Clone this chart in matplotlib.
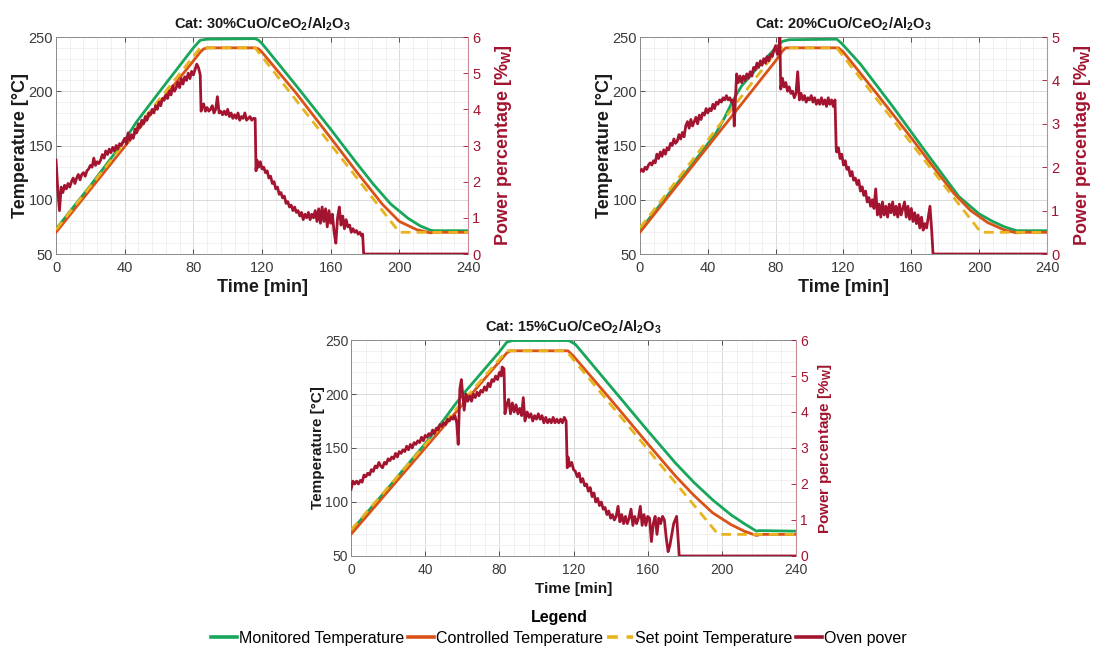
import numpy as np
import matplotlib
matplotlib.use("Agg")
import matplotlib.pyplot as plt
from matplotlib.ticker import MultipleLocator
from matplotlib.lines import Line2D

plt.rcParams['font.family'] = ['Liberation Sans', 'DejaVu Sans']
plt.rcParams['mathtext.fontset'] = 'custom'
plt.rcParams['mathtext.rm'] = 'Liberation Sans'
plt.rcParams['mathtext.bf'] = 'Liberation Sans:bold'
plt.rcParams['mathtext.default'] = 'bf'

GREEN = '#17A65A'
ORANGE = '#D95319'
YELLOW = '#E8B41E'
RED = '#A2142F'
AXC = '#3a3a3a'

# ---------------- 30% CuO/CeO2/Al2O3 ----------------
t30_set = [0, 84, 116, 200, 240]
T30_set = [72.5, 240, 240, 70, 70]
t30_ctrl = [0, 80, 84, 86, 88, 116, 118, 120, 140, 160, 175, 185, 190, 200, 210, 218, 220, 240]
T30_ctrl = [70, 228, 236, 239, 240, 240, 239, 236, 198, 157, 126, 106, 96, 80, 72.5, 69.5, 70, 70]
t30_mon = [0, 20, 40, 47, 60, 80, 84, 88, 116, 118, 120, 140, 160, 175, 185, 195, 205, 212, 218, 220, 240]
T30_mon = [73, 113, 155, 172, 199, 240, 247, 248, 248.5, 247, 244, 205, 165, 134, 114, 96, 83, 76, 72, 71.5, 71.5]
t30_pow = [0, 1, 2, 3, 4, 5, 6, 7, 8, 9,
           10, 11, 12, 13, 14, 15, 16, 17, 18, 19,
           20, 21, 22, 23, 24, 25, 26, 27, 28, 29,
           30, 31, 32, 33, 34, 35, 36, 37, 38, 39,
           40, 41, 42, 43, 44, 45, 46, 47, 48, 49,
           50, 51, 52, 53, 54, 55, 56, 57, 58, 59,
           60, 61, 62, 63, 64, 65, 66, 67, 68, 69,
           70, 71, 72, 73, 74, 75, 76, 77, 78, 79,
           80, 81, 82, 83, 84, 84.5, 85, 86, 87, 88, 89,
           90, 91, 92, 93, 94, 95, 96, 97, 98, 99,
           100, 101, 102, 103, 104, 105, 106, 107, 108, 109,
           110, 111, 112, 113, 114, 115, 116, 116.5, 117, 118, 119,
           120, 121, 122, 123, 124, 125, 126, 127, 128, 129,
           130, 131, 132, 133, 134, 135, 136, 137, 138, 139,
           140, 141, 142, 143, 144, 145, 146, 147, 148, 149,
           150, 151, 152, 153, 154, 155, 156, 157, 158, 159,
           160, 161, 162, 163, 164, 165, 166, 167, 168, 169,
           170, 171, 172, 173, 174, 175, 176, 177, 178, 178.6, 179.2, 240]
P30_pow = [2.6, 1.8, 1.2, 1.85, 1.7, 1.9, 1.8, 1.95, 1.85, 2.0,
           2.1, 1.95, 2.1, 2.2, 2.05, 2.2, 2.25, 2.15, 2.3, 2.35,
           2.45, 2.4, 2.65, 2.45, 2.55, 2.5, 2.6, 2.75, 2.65, 2.85,
           2.75, 2.9, 2.8, 2.95, 2.85, 3.0, 2.9, 3.05, 3.0, 3.1,
           3.2, 3.05, 3.35, 3.15, 3.3, 3.2, 3.45, 3.35, 3.6, 3.5,
           3.7, 3.6, 3.8, 3.7, 3.9, 3.85, 4.0, 3.9, 4.1, 4.0,
           4.2, 4.1, 4.3, 4.25, 4.4, 4.3, 4.5, 4.4, 4.65, 4.5,
           4.6, 4.75, 4.6, 4.85, 4.7, 4.9, 4.8, 5.0, 4.85, 5.05,
           4.95, 5.1, 5.25, 5.15, 4.95, 3.95, 4.05, 4.15, 3.95, 4.05, 3.95,
           4.0, 4.1, 3.9, 4.0, 4.35, 3.9, 3.95, 3.85, 3.95, 3.85,
           4.0, 3.8, 3.9, 3.75, 3.85, 3.75, 3.9, 3.7, 3.8, 3.75,
           3.9, 3.7, 3.75, 3.8, 3.7, 3.75, 3.75, 2.3, 2.6, 2.4, 2.55,
           2.35, 2.4, 2.25, 2.3, 2.1, 2.15, 1.95, 2.0, 1.8, 1.85,
           1.65, 1.7, 1.55, 1.6, 1.4, 1.45, 1.3, 1.35, 1.2, 1.3,
           1.15, 1.2, 1.05, 1.15, 0.95, 1.1, 1.0, 1.15, 0.95, 1.1,
           1.0, 1.2, 0.9, 1.25, 0.85, 1.3, 0.9, 1.25, 0.75, 1.2,
           0.85, 1.1, 0.6, 0.3, 1.0, 1.3, 0.8, 1.05, 0.7, 0.95,
           0.75, 0.8, 0.6, 0.7, 0.6, 0.65, 0.55, 0.6, 0.5, 0.55, 0.0, 0.0]

# ---------------- 20% CuO/CeO2/Al2O3 ----------------
t20_set = [0, 82, 116, 201, 240]
T20_set = [74, 240, 240, 70, 70]
t20_ctrl = [0, 80, 84, 86, 117, 120, 140, 160, 175, 185, 195, 205, 215, 222, 225, 240]
T20_ctrl = [70, 228, 237, 240, 240, 236, 197, 157, 126, 106, 90, 79, 72, 69.5, 70, 70]
t20_mon = [0, 30, 45, 50, 55, 60, 70, 80, 84, 88, 116, 119, 130, 149, 169, 188, 200, 208, 215, 222, 240]
T20_mon = [72, 131, 162, 176, 192, 205, 223, 240, 246, 247.5, 248, 244, 225, 186, 143, 103, 87, 80, 75, 71.5, 71.5]
t20_pow = [0, 1, 2, 3, 4, 5, 6, 7, 8, 9,
           10, 11, 12, 13, 14, 15, 16, 17, 18, 19,
           20, 21, 22, 23, 24, 25, 26, 27, 28, 29,
           30, 31, 32, 33, 34, 35, 36, 37, 38, 39,
           40, 41, 42, 43, 44, 45, 46, 47, 48, 49,
           50, 51, 52, 53, 54, 55, 55.6, 56.2, 57, 58, 59,
           60, 61, 62, 63, 64, 65, 66, 67, 68, 69,
           70, 71, 72, 73, 74, 75, 76, 77, 78, 79,
           80, 81, 82, 82.5, 83, 84, 85, 86, 87, 88, 89,
           90, 91, 92, 93, 94, 95, 96, 97, 98, 99,
           100, 101, 102, 103, 104, 105, 106, 107, 108, 109,
           110, 111, 112, 113, 114, 115, 115.7, 116, 117, 118, 119,
           120, 121, 122, 123, 124, 125, 126, 127, 128, 129,
           130, 131, 132, 133, 134, 135, 136, 137, 138, 139,
           140, 141, 142, 143, 144, 145, 146, 147, 148, 149,
           150, 151, 152, 153, 154, 155, 156, 157, 158, 159,
           160, 161, 162, 163, 164, 165, 166, 167, 168, 169,
           170, 171, 172, 172.8, 240]
P20_pow = [1.9, 1.95, 1.9, 2.0, 1.95, 2.05, 2.1, 2.05, 2.15, 2.1,
           2.3, 2.2, 2.35, 2.25, 2.4, 2.3, 2.45, 2.4, 2.55, 2.5,
           2.65, 2.55, 2.6, 2.75, 2.65, 2.8, 2.7, 2.95, 3.05, 2.9,
           3.1, 2.95, 3.05, 3.15, 3.0, 3.2, 3.1, 3.25, 3.2, 3.35,
           3.25, 3.35, 3.3, 3.45, 3.35, 3.5, 3.45, 3.55, 3.5, 3.6,
           3.55, 3.65, 3.55, 3.6, 3.5, 3.55, 2.95, 3.5, 4.15, 3.95, 4.1,
           3.95, 4.1, 4.0, 4.15, 4.05, 4.2, 4.1, 4.3, 4.25, 4.4,
           4.3, 4.45, 4.35, 4.5, 4.4, 4.55, 4.45, 4.6, 4.55, 4.7,
           4.8, 4.6, 4.75, 5.0, 3.8, 4.05, 3.85, 3.95, 3.75, 3.85, 3.7,
           3.75, 3.6, 3.7, 4.2, 3.55, 3.7, 3.55, 3.65, 3.5, 3.6,
           3.55, 3.65, 3.5, 3.6, 3.45, 3.55, 3.45, 3.6, 3.45, 3.55,
           3.4, 3.6, 3.45, 3.55, 3.4, 3.55, 2.45, 2.35, 2.45, 2.2, 2.3,
           2.05, 2.15, 1.95, 2.0, 1.8, 1.9, 1.7, 1.75, 1.6, 1.7,
           1.45, 1.55, 1.35, 1.45, 1.2, 1.3, 1.1, 1.25, 1.05, 1.5,
           0.9, 1.15, 0.85, 1.2, 0.9, 1.1, 0.85, 1.15, 0.95, 1.2,
           0.9, 1.1, 0.85, 1.15, 0.9, 1.05, 1.2, 0.85, 1.1, 0.8,
           1.05, 0.75, 0.95, 0.7, 0.9, 0.6, 0.85, 0.55, 0.7, 0.6,
           0.85, 1.1, 0.55, 0.0, 0.0]

# ---------------- 15% CuO/CeO2/Al2O3 ----------------
t15_set = [0, 84, 116, 198, 240]
T15_set = [74, 240, 240, 70, 70]
t15_ctrl = [0, 80, 84, 86, 117, 120, 140, 160, 175, 185, 195, 205, 212, 218.6, 221, 240]
T15_ctrl = [70, 230, 238, 240, 240, 235, 195, 154, 124, 106, 90, 79, 73, 69, 70, 70]
t15_mon = [0, 20, 40, 50, 56, 61, 70, 80, 84, 87, 117, 118, 121, 140, 160, 175, 185, 195, 205, 212, 218.6, 220, 240]
T15_mon = [73, 113, 154, 176, 190, 201, 219, 239, 248, 249.5, 249.5, 249, 246, 207, 166, 136, 118, 102, 88, 80, 73, 73.5, 73]
t15_pow = [0, 1, 2, 3, 4, 5, 6, 7, 8, 9,
           10, 11, 12, 13, 14, 15, 16, 17, 18, 19,
           20, 21, 22, 23, 24, 25, 26, 27, 28, 29,
           30, 31, 32, 33, 34, 35, 36, 37, 38, 39,
           40, 41, 42, 43, 44, 45, 46, 47, 48, 49,
           50, 51, 52, 53, 54, 55, 56, 57, 57.8, 58.7, 59.5,
           60.5, 61, 62, 63, 64, 65, 66, 67, 68, 69,
           70, 71, 72, 73, 74, 75, 76, 77, 78, 79,
           80, 81, 81.5, 82.5, 83, 84, 85, 86, 87, 88, 89,
           90, 91, 92, 92.9, 93.8, 95, 96, 97, 98, 99,
           100, 101, 102, 103, 104, 105, 106, 107, 108, 109,
           110, 111, 112, 113, 114, 115, 116, 116.6, 117, 118, 119,
           120, 121, 122, 123, 124, 125, 126, 127, 128, 129,
           130, 131, 132, 133, 134, 135, 136, 137, 138, 139,
           140, 141, 142, 143, 144, 145, 146, 147, 148, 149,
           150, 151, 152, 153, 154, 155, 156, 157, 158, 159,
           160, 161, 162, 163, 164, 165, 166, 167, 168, 169,
           170, 171, 172, 173, 174, 175.6, 177, 240]
P15_pow = [1.85, 2.08, 2.0, 2.08, 2.0, 2.1, 2.05, 2.25, 2.2, 2.3,
           2.25, 2.4, 2.35, 2.5, 2.45, 2.6, 2.5, 2.45, 2.6, 2.55,
           2.7, 2.65, 2.75, 2.7, 2.85, 2.75, 2.9, 2.85, 2.95, 2.9,
           3.05, 2.95, 3.1, 3.0, 3.15, 3.1, 3.2, 3.15, 3.3, 3.2,
           3.35, 3.3, 3.4, 3.35, 3.5, 3.4, 3.55, 3.5, 3.65, 3.6,
           3.7, 3.65, 3.8, 3.75, 3.85, 3.8, 3.9, 3.7, 3.1, 4.65, 4.9,
           4.35, 4.05, 4.5, 4.3, 4.45, 4.3, 4.5, 4.4, 4.55, 4.45,
           4.6, 4.55, 4.7, 4.6, 4.8, 4.7, 4.9, 4.85, 5.0, 4.9,
           5.1, 5.0, 5.25, 5.2, 3.95, 4.2, 4.35, 3.95, 4.25, 4.0, 4.2,
           3.95, 4.1, 3.9, 4.4, 3.75, 4.0, 3.85, 3.95, 3.75, 3.9,
           3.8, 3.95, 3.8, 3.9, 3.7, 3.85, 3.7, 3.8, 3.7, 3.85,
           3.7, 3.8, 3.7, 3.8, 3.7, 3.85, 3.75, 2.45, 2.75, 2.5, 2.6,
           2.4, 2.35, 2.2, 2.3, 2.05, 2.15, 1.95, 2.0, 1.8, 1.9,
           1.65, 1.75, 1.5, 1.6, 1.4, 1.5, 1.3, 1.35, 1.15, 1.25,
           1.05, 1.15, 1.0, 1.1, 1.38, 0.95, 1.15, 0.9, 1.1, 0.9,
           1.05, 1.3, 0.85, 1.1, 0.9, 1.05, 1.38, 0.85, 1.15, 0.85,
           1.1, 1.05, 0.4, 0.9, 1.1, 0.6, 1.05, 0.9, 1.1, 1.0,
           0.5, 0.12, 0.3, 0.6, 0.9, 1.1, 0.0, 0.0]

time_ticks = [0, 40, 80, 120, 160, 200, 240]
temp_ticks = [50, 100, 150, 200, 250]


def draw_panel(rect, title, t_mon, T_mon, t_ctrl, T_ctrl, t_set, T_set,
               t_pow, P_pow, pmax, tick_fs, label_fs, title_fs, lw, xlabpad, rlabpad):
    ax = fig.add_axes(rect)
    ax.set_xlim(0, 240)
    ax.set_ylim(50, 250)
    ax.set_xticks(time_ticks)
    ax.set_yticks(temp_ticks)
    ax.xaxis.set_minor_locator(MultipleLocator(8))
    ax.yaxis.set_minor_locator(MultipleLocator(10))
    ax.grid(which='major', color='#d9d9d9', lw=0.7)
    ax.grid(which='minor', color='#eeeeee', lw=0.6)
    ax.set_axisbelow(True)
    ax.tick_params(which='major', direction='in', length=3.5, width=0.6,
                   colors=AXC, labelsize=tick_fs, top=True, right=False)
    ax.tick_params(axis='x', pad=5)
    ax.tick_params(axis='y', pad=2)
    ax.tick_params(which='minor', length=0)
    for s in ['left', 'bottom', 'top']:
        ax.spines[s].set_color('#8c8c8c')
        ax.spines[s].set_linewidth(0.7)
    ax.spines['right'].set_visible(False)

    ax.plot(t_mon, T_mon, color=GREEN, lw=lw, solid_joinstyle='round', zorder=3)
    ax.plot(t_ctrl, T_ctrl, color=ORANGE, lw=lw, solid_joinstyle='round', zorder=4)
    ax.plot(t_set, T_set, color=YELLOW, lw=lw, ls=(0, (3.5, 2.2)), zorder=5)

    ax.set_xlabel('Time [min]', fontsize=label_fs, fontweight='bold', color='#1a1a1a',
                  labelpad=xlabpad)
    ax.set_ylabel('Temperature [°C]', fontsize=label_fs, fontweight='bold', color='#1a1a1a',
                  labelpad=0)
    ax.set_title(title, fontsize=title_fs, fontweight='bold', color='#1a1a1a', pad=6)

    ax2 = ax.twinx()
    ax2.set_ylim(0, pmax)
    ax2.set_yticks(range(0, pmax + 1))
    ax2.plot(t_pow, P_pow, color=RED, lw=lw, solid_joinstyle='round', zorder=6)
    ax2.tick_params(axis='y', direction='in', length=3.5, width=0.6, colors=RED,
                    labelsize=tick_fs, pad=3)
    for s in ['left', 'bottom', 'top']:
        ax2.spines[s].set_visible(False)
    ax2.spines['right'].set_color('#c98a96')
    ax2.spines['right'].set_linewidth(0.8)
    ax2.set_ylabel('Power percentage [%$_W$]', fontsize=label_fs, fontweight='bold',
                   color=RED, labelpad=rlabpad)
    return ax, ax2


fig = plt.figure(figsize=(11.07, 6.48), dpi=100)

draw_panel([0.0506, 0.608, 0.3722, 0.3349], 'Cat: 30%CuO/CeO$_2$/Al$_2$O$_3$',
           t30_mon, T30_mon, t30_ctrl, T30_ctrl, t30_set, T30_set,
           t30_pow, P30_pow, 6, 10.5, 13, 10.5, 2.0, 3, 9)
draw_panel([0.5781, 0.608, 0.3677, 0.3349], 'Cat: 20%CuO/CeO$_2$/Al$_2$O$_3$',
           t20_mon, T20_mon, t20_ctrl, T20_ctrl, t20_set, T20_set,
           t20_pow, P20_pow, 5, 10.5, 13, 10.5, 2.0, 3, 9)
draw_panel([0.3171, 0.1420, 0.4020, 0.3333], 'Cat: 15%CuO/CeO$_2$/Al$_2$O$_3$',
           t15_mon, T15_mon, t15_ctrl, T15_ctrl, t15_set, T15_set,
           t15_pow, P15_pow, 6, 10, 11, 10.5, 2.0, 4, 6)

handles = [Line2D([], [], color=GREEN, lw=2.6),
           Line2D([], [], color=ORANGE, lw=2.6),
           Line2D([], [], color=YELLOW, lw=2.6, ls=(0, (3.0, 2.4))),
           Line2D([], [], color=RED, lw=2.6)]
labels = ['Monitored Temperature', 'Controlled Temperature',
          'Set point Temperature', 'Oven pover']
leg = fig.legend(handles, labels, loc='lower center', bbox_to_anchor=(0.505, -0.019),
                 ncol=4, frameon=False, fontsize=11.5, handlelength=1.6,
                 handletextpad=0.15, columnspacing=0.25, title='Legend',
                 title_fontproperties={'weight': 'bold', 'size': 11.5})
leg._legend_box.sep = 4

fig.savefig('out.png', dpi=100)
